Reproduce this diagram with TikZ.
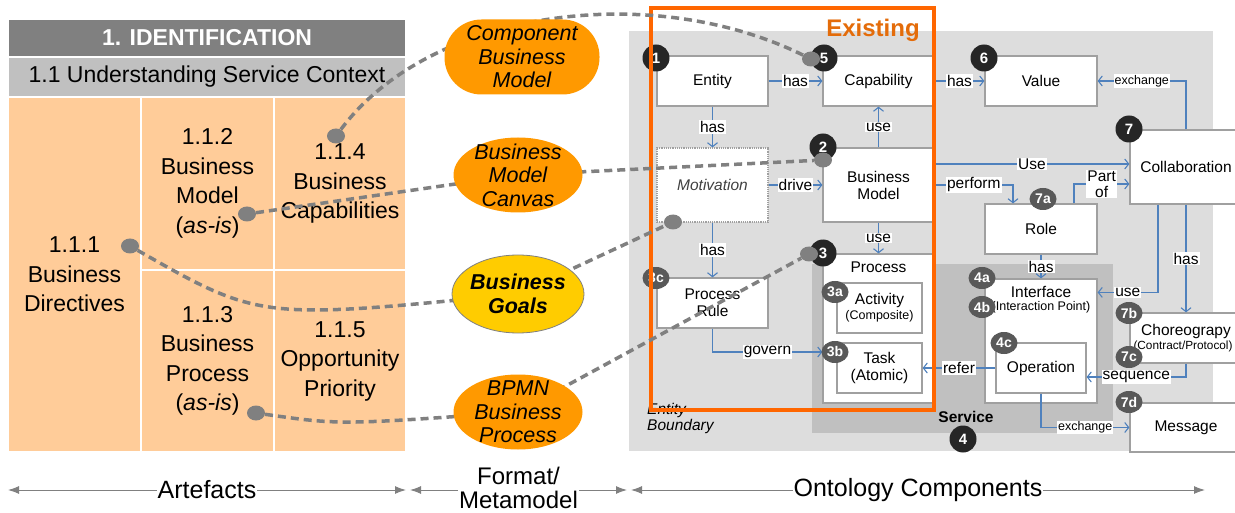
\documentclass[tikz,border=0pt]{standalone}
\usepackage{fontspec}
\setmainfont{Liberation Sans}
\usetikzlibrary{arrows.meta,calc,shapes.geometric}
\pgfdeclarelayer{front}
\pgfsetlayers{main,front}
\definecolor{hdr}{HTML}{808080}
\definecolor{subhdr}{HTML}{C0C0C0}
\definecolor{peach}{HTML}{FFCC99}
\definecolor{orangeE}{HTML}{FF9900}
\definecolor{goal}{HTML}{FFCC00}
\definecolor{bgA}{HTML}{DDDDDD}
\definecolor{bgS}{HTML}{C0C0C0}
\definecolor{exist}{HTML}{FF6600}
\definecolor{existT}{HTML}{E46C0A}
\definecolor{blu}{HTML}{4F81BD}
\definecolor{dk}{HTML}{262626}
\definecolor{md}{HTML}{595959}
\definecolor{dotg}{HTML}{808080}
\definecolor{boxline}{HTML}{A0A0A0}
\tikzset{
  hdrbox/.style={fill=hdr, draw=white, line width=1.5, minimum width=398, minimum height=38, inner sep=0, text=white, font=\bfseries\fontsize{23}{23}\selectfont},
  subbox/.style={fill=subhdr, draw=white, line width=1.5, minimum width=398, minimum height=39, inner sep=0, font=\fontsize{23}{23}\selectfont},
  cell/.style={fill=peach, draw=white, line width=1.5, inner sep=0, align=center, font=\fontsize{23}{29.5}\selectfont},
  ellshape/.style={fill=orangeE, inner sep=0},
  elltext/.style={align=center, inner sep=0, font=\itshape\fontsize{21.5}{23.5}\selectfont},
  box/.style={draw=boxline, fill=white, line width=1.2, align=center, inner sep=2, font=\fontsize{15.5}{17}\selectfont},
  boxtxt/.style={inner sep=0, font=\fontsize{15.5}{17}\selectfont},
  smalltxt/.style={inner sep=0, font=\fontsize{12.5}{14}\selectfont},
  badge/.style={circle, fill=dk, text=white, minimum size=27, inner sep=0, font=\bfseries\fontsize{15}{15}\selectfont},
  sbadge/.style={ellipse, fill=md, text=white, minimum width=27, minimum height=22, inner sep=0, font=\bfseries\fontsize{14}{14}\selectfont},
  gdot/.style={ellipse, fill=dotg, minimum width=18, minimum height=15, inner sep=0},
  dashcon/.style={draw=dotg, line width=3.5, dash pattern=on 8pt off 5pt},
  rel/.style={draw=blu, line width=1.1, -{Straight Barb[length=4pt,width=10pt]}},
  lab/.style={fill=white, inner sep=1, align=center, font=\fontsize{15.5}{16}\selectfont},
  slab/.style={fill=white, inner sep=1, font=\fontsize{12.5}{13}\selectfont},
  axisline/.style={draw=hdr, line width=1, {Latex[length=11,width=8]}-{Latex[length=11,width=8]}},
  axlab/.style={fill=white, inner sep=1, align=center, font=\fontsize{25}{25}\selectfont}
}
\begin{document}
\begin{tikzpicture}[x=1pt,y=-1pt]
\clip (0,0) rectangle (1235,513);
\fill[white] (0,0) rectangle (1235,513);

% ---------------- left panel ----------------
\node[hdrbox] (h1) at (207,38) {1. IDENTIFICATION};
\node[subbox] (h2) at (207,77) {1.1 Understanding Service Context};
\node[cell, minimum width=133, minimum height=355] (c111) at (74.5,274.5) {1.1.1\\Business\\Directives};
\node[cell, minimum width=133, minimum height=173] (c112) at (207.5,183.5) {1.1.2\\Business\\Model\\(\textit{as-is})};
\node[cell, minimum width=132, minimum height=173] (c114) at (340,183.5) {1.1.4\\Business\\Capabilities};
\node[cell, minimum width=133, minimum height=182] (c113) at (207.5,361) {1.1.3\\Business\\Process\\(\textit{as-is})};
\node[cell, minimum width=132, minimum height=182] (c115) at (340,361) {1.1.5\\Opportunity\\Priority};

% ---------------- ontology area ----------------
\fill[bgA] (629,31) rectangle (1213,451);
\fill[bgS] (812,264) rectangle (1113,433);

\node[box, minimum width=111, minimum height=50] (entity) at (712.5,81) {Entity};
\node[box, minimum width=111, minimum height=50] (capability) at (878.5,81) {Capability};
\node[box, minimum width=112, minimum height=50] (value) at (1041,81) {Value};
\node[box, densely dotted, minimum width=111, minimum height=74, text=black!75, font=\itshape\fontsize{15.5}{17}\selectfont] (motivation) at (712.5,185) {Motivation};
\node[box, minimum width=111, minimum height=74] (bm) at (878.5,185) {Business\\Model};
\node[box, minimum width=112, minimum height=74] (collab) at (1186,167) {Collaboration};
\node[box, minimum width=112, minimum height=50] (role) at (1041,229) {Role};
\node[box, minimum width=111, minimum height=50] (prule) at (712.5,303) {Process\\Rule};
\node[box, minimum width=111, minimum height=149] (process) at (878.5,328.5) {};
\node[boxtxt] (proclab) at (878.5,267) {Process};
\node[box, minimum width=85, minimum height=50, font=\fontsize{15.5}{15}\selectfont] (activity) at (879.5,308) {Activity\\{\fontsize{12.5}{15}\selectfont(Composite)}};
\node[box, minimum width=85, minimum height=50] (task) at (879.5,368) {Task\\(Atomic)};
\node[box, minimum width=112, minimum height=124] (interface) at (1041,341) {};
\node[boxtxt] (iflab) at (1041,292) {Interface};
\node[smalltxt] (iflab2) at (1041,307) {(Interaction Point)};
\node[box, minimum width=90, minimum height=50] (operation) at (1041,368) {Operation};
\node[box, minimum width=112, minimum height=50] (choreo) at (1186,338) {};
\node[boxtxt] (chlab) at (1186,331) {Choreograpy};
\node[inner sep=0, font=\fontsize{11.8}{13}\selectfont] (chlab2) at (1183,346) {(Contract/Protocol)};
\node[box, minimum width=112, minimum height=49] (message) at (1186,427.5) {Message};

% blue relations
\draw[rel] (entity) -- (capability) node[lab, midway] {has};
\draw[rel] (capability) -- (value) node[lab, midway] {has};
\draw[rel] (entity) -- (motivation) node[lab, midway] {has};
\draw[rel] (bm) -- (capability) node[lab, midway] {use};
\draw[rel] (motivation) -- (bm) node[lab, midway] {drive};
\draw[rel] (bm) -- (process) node[lab, midway] {use};
\draw[rel] (motivation) -- (prule) node[lab, midway] {has};
\coordinate (govE) at ($(task.west -| process.west)+(0,-16)$);
\draw[rel] (prule.south) |- (govE) node[lab, pos=0.75] {govern};
\draw[rel] (collab.north) |- (value.east) node[slab, pos=0.75] {exchange};
\coordinate (useS) at ([yshift=21]bm.east);
\draw[rel] (useS) -- (useS -| collab.west) node[lab, midway] {Use};
\coordinate (perfE) at ([xshift=-28]role.north);
\draw[rel] (bm.east) -| (perfE) node[lab, pos=0.25] {perform};
\coordinate (partS) at ([xshift=33]role.north);
\coordinate (partE) at ([yshift=-17]collab.west);
\draw[rel] (partS) |- (partE) node[lab, pos=0.75] {Part\\of};
\draw[rel] (role.south) -- (interface.north) node[lab, midway] {has};
\coordinate (useC) at ([xshift=-28]collab.south);
\coordinate (useI) at ([yshift=-14]interface.north east);
\draw[rel] (useC) |- (useI) node[lab, pos=0.75] {use};
\draw[rel] (collab) -- (choreo) node[lab, midway] {has};
\coordinate (seqE) at ([yshift=-9]operation.east);
\draw[rel] (choreo.south) |- (seqE) node[lab, pos=0.75] {sequence};
\draw[rel] (operation.west) -- (task.east) node[lab, midway] {refer};
\draw[rel] (operation.south) |- (message.west) node[slab, pos=0.75] {exchange};

% badges
\node[badge] (b1) at (656,58) {1};
\node[badge] (b5) at (824,58) {5};
\node[badge] (b2) at (823,147) {2};
\node[badge] (b3) at (823,253) {3};
\node[badge] (b6) at (984,58) {6};
\node[badge] (b7) at (1129,129) {7};
\node[badge] (b4) at (963,439) {4};
\node[sbadge] (b7a) at (1043,199) {7a};
\node[sbadge] (b3c) at (656,278) {3c};
\node[sbadge] (b3a) at (835,292) {3a};
\node[sbadge] (b3b) at (835,352) {3b};
\node[sbadge] (b4a) at (982,278) {4a};
\node[sbadge] (b4b) at (982,307) {4b};
\node[sbadge] (b4c) at (1004,343) {4c};
\node[sbadge] (b7b) at (1129,313) {7b};
\node[sbadge] (b7c) at (1129,357) {7c};
\node[sbadge] (b7d) at (1129,402) {7d};

\node[inner sep=0, font=\bfseries\fontsize{15.5}{16}\selectfont] (svc) at (966,417) {Service};
\node[anchor=west, align=left, inner sep=0, font=\itshape\fontsize{15.5}{16}\selectfont] (eb) at (647,418) {Entity\\Boundary};

% existing frame
\draw[exist, line width=4] (651,8) rectangle (934,410);
\node[inner sep=0, text=existT, font=\bfseries\fontsize{24}{24}\selectfont] (exlab) at (873,30) {Existing};

% ---------------- front: dots and ellipses ----------------
\begin{pgfonlayer}{front}
\node[gdot] (d114) at (336,136) {};
\node[gdot] (d112) at (247,214) {};
\node[gdot] (d111) at (130,246) {};
\node[gdot] (d113) at (256,413) {};
\node[gdot] (d5) at (811,59) {};
\node[gdot] (d2) at (823,160) {};
\node[gdot] (d3) at (809,254) {};
\node[gdot] (dmot) at (673,222) {};

\node[ellshape, rectangle, rounded corners=37, minimum width=155, minimum height=75] (cbm) at (522,57) {};
\node[elltext] at (cbm) {Component\\Business\\Model};
\node[ellshape, ellipse, minimum width=129, minimum height=75] (bmc) at (518,175) {};
\node[elltext] at (bmc) {Business\\Model\\Canvas};
\node[ellshape, ellipse, fill=goal, draw=hdr, line width=0.8, minimum width=132, minimum height=78] (bg) at (518,294) {};
\node[elltext, font=\bfseries\itshape\fontsize{21.5}{23.5}\selectfont] at (bg) {Business\\Goals};
\node[ellshape, ellipse, minimum width=129, minimum height=75] (bpmn) at (518,412) {};
\node[elltext] at (bpmn) {BPMN\\Business\\Process};
\end{pgfonlayer}

% dashed mappings
\draw[dashcon] (d114) .. controls (430,10) and (650,-20) .. (d5);
\draw[dashcon] (d112) -- (bmc.center) -- (d2);
\draw[dashcon] (d111) .. controls (260,320) .. (bg.center) -- (dmot);
\draw[dashcon] (d113) .. controls (340,425) .. (bpmn.center) -- (d3);

% ---------------- axis ----------------
\coordinate (a1) at (8,490);
\coordinate (a2) at (406,490);
\coordinate (f1) at (410,490);
\coordinate (f2) at (627,490);
\coordinate (o1) at (631,490);
\coordinate (o2) at (1205,490);
\draw[axisline] (a1) -- (a2) node[axlab, midway] {Artefacts};
\draw[axisline] (f1) -- (f2) node[axlab, midway, yshift=2, font=\fontsize{24}{24}\selectfont] {Format/\\Metamodel};
\draw[axisline] (o1) -- (o2) node[axlab, midway] {Ontology Components};
\end{tikzpicture}
\end{document}
